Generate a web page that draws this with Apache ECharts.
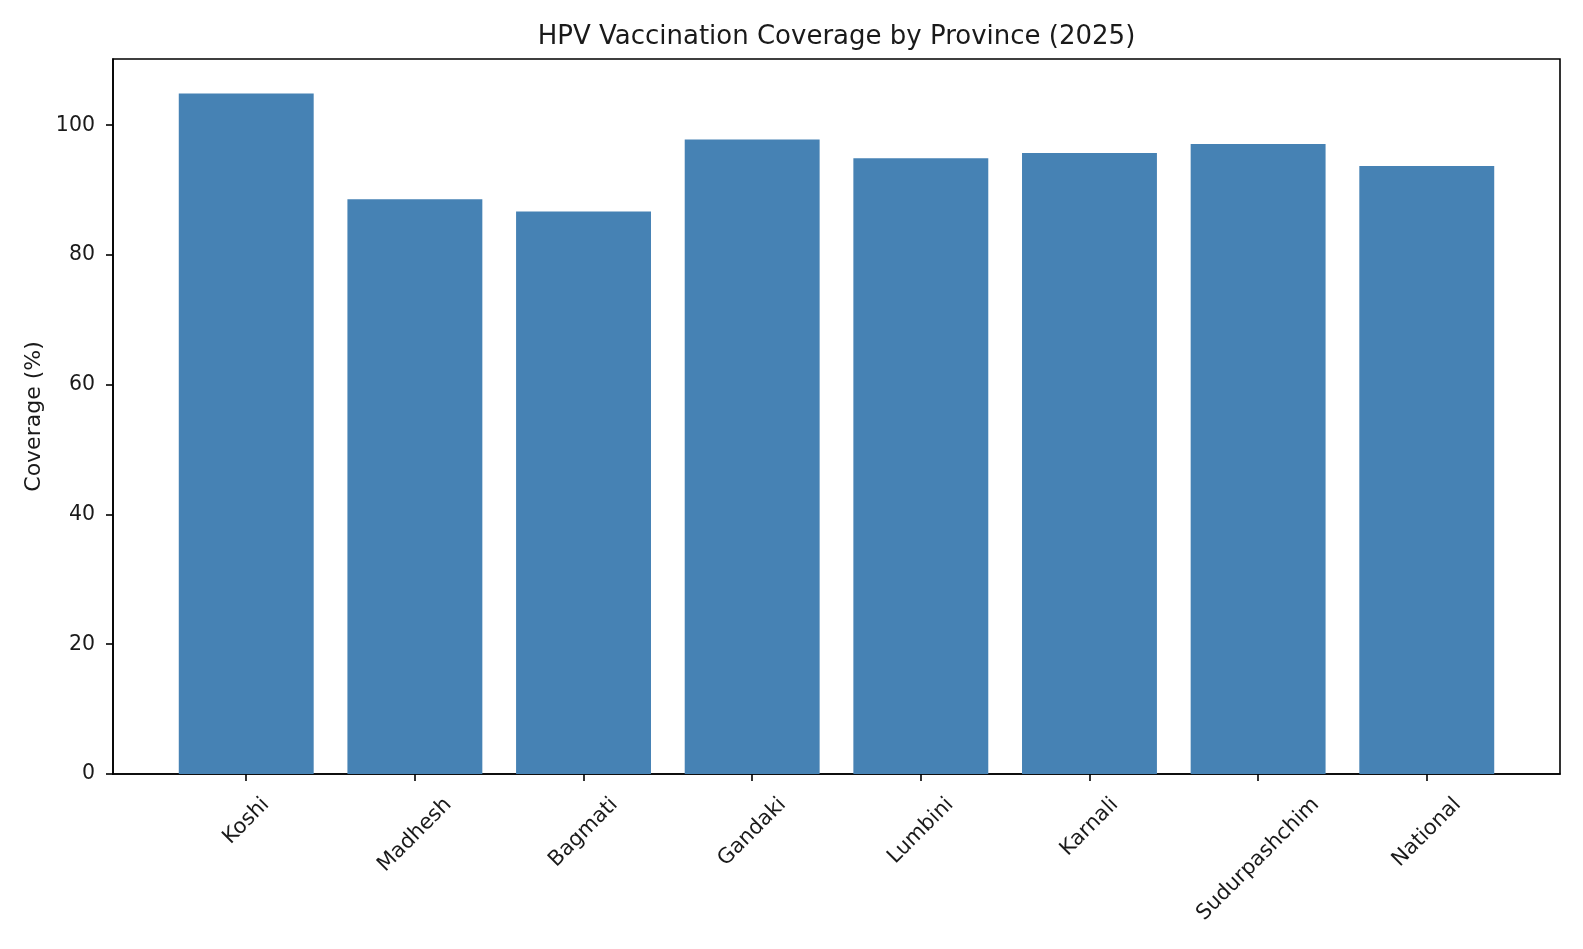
<!DOCTYPE html>
<html><head><meta charset="utf-8">
<script src="https://cdn.jsdelivr.net/npm/echarts@6/dist/echarts.min.js"></script>
<style>html,body{margin:0;padding:0;background:#fff}#c{width:1583px;height:949px}</style>
</head><body><div id="c"></div>
<script>
const categories = ['Koshi','Madhesh','Bagmati','Gandaki','Lumbini','Karnali','Sudurpashchim','National'];
const coverage = [104.9, 88.6, 86.7, 97.8, 94.9, 95.7, 97.1, 93.7];
const yTicks = [0, 20, 40, 60, 80, 100];
const xTicks = [0, 1, 2, 3, 4, 5, 6, 7];
const titleText = 'HPV Vaccination Coverage by Province (2025)';
const yAxisName = 'Coverage (%)';

const W = 1583;
const grid = {left: 113, right: 23, top: 59, bottom: 175, show: true, borderColor: '#000', borderWidth: 1.6, containLabel: false};
const xMin = -0.79, xMax = 7.79;
const yMax = 110.2;
const plotW = W - grid.left - grid.right;
const barW = 0.8 * plotW / (xMax - xMin);
const FONT = 'DejaVu Sans';
const fs = 21;
const titleFs = 26;
const txt = '#1a1a1a';
const ctx = document.createElement('canvas').getContext('2d');
ctx.font = fs + 'px "DejaVu Sans"';
const rich = {};
categories.forEach((c, i) => {
  const w = ctx.measureText(c).width;
  const p = (w + fs) / 2;
  rich['c' + i] = {fontFamily: FONT, fontSize: fs, color: txt, padding: [p, p, 0, 0]};
});
ctx.font = titleFs + 'px "DejaVu Sans"';
const titleW = ctx.measureText(titleText).width;
const titleLeft = grid.left + plotW / 2 - titleW / 2;

const chart = echarts.init(document.getElementById('c'), null, {renderer: 'canvas'});
chart.setOption({
  animation: false,
  backgroundColor: '#fff',
  title: {text: titleText, left: titleLeft, top: 24, padding: 0,
    textStyle: {fontFamily: FONT, fontSize: titleFs, fontWeight: 'normal', color: txt}},
  grid: grid,
  xAxis: {
    type: 'value', min: xMin, max: xMax,
    splitLine: {show: false},
    axisLine: {show: true, onZero: false, lineStyle: {color: '#000', width: 1.6}},
    axisTick: {show: true, customValues: xTicks, length: 7, lineStyle: {color: '#000', width: 1.6}},
    axisLabel: {
      customValues: xTicks, rotate: 45, margin: 20, align: 'center', verticalAlign: 'middle',
      hideOverlap: false, showMinLabel: true, showMaxLabel: true,
      formatter: v => '{c' + v + '|' + categories[v] + '}', rich: rich
    }
  },
  yAxis: {
    type: 'value', min: 0, max: yMax,
    name: yAxisName, nameLocation: 'middle', nameGap: 68,
    nameTextStyle: {fontFamily: FONT, fontSize: 22, color: txt},
    splitLine: {show: false},
    axisLine: {show: true, onZero: false, lineStyle: {color: '#000', width: 1.6}},
    axisTick: {show: true, customValues: yTicks, length: 7, lineStyle: {color: '#000', width: 1.6}},
    axisLabel: {customValues: yTicks, margin: 18, fontFamily: FONT, fontSize: 20.5, color: txt}
  },
  series: [{
    type: 'bar',
    data: coverage.map((v, i) => [xTicks[i], v]),
    barWidth: barW,
    itemStyle: {color: '#4682B4'}
  }]
});
</script></body></html>
